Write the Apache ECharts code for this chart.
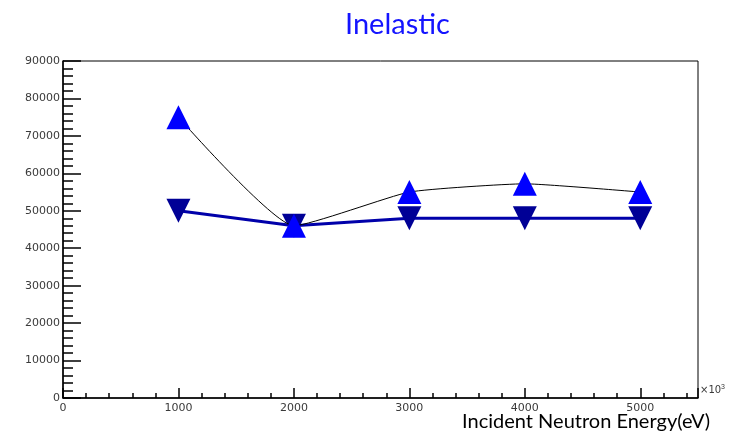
<!DOCTYPE html>
<html>
<head>
<meta charset="UTF-8">
<title>Inelastic</title>
<script src="https://cdn.jsdelivr.net/npm/echarts@6/dist/echarts.min.js"></script>
<style>
  html, body { margin: 0; padding: 0; background: #fff; }
  #chart { width: 730px; height: 432px; }
</style>
</head>
<body>
<div id="chart"></div>
<script>
  // incident energies (x10^3 eV) and cross-section values
  const energies = [1000, 2000, 3000, 4000, 5000];
  const upValues = [75000, 46000, 55000, 57200, 55000];
  const downValues = [50000, 46000, 48000, 48000, 48000];

  const chart = echarts.init(document.getElementById('chart'));

  const toPairs = (xs, ys) => xs.map((x, i) => [x, ys[i]]);

  const labelStyle = {
    fontFamily: 'DejaVu Sans, sans-serif',
    fontSize: 11,
    color: '#3a3a3a',
    formatter: (v) => String(v)
  };

  const option = {
    backgroundColor: '#fff',
    animation: false,
    title: {
      text: 'Inelastic',
      left: 340,
      top: 5,
      textStyle: {
        fontFamily: 'Lato, Noto Sans, sans-serif',
        fontWeight: 'normal',
        fontSize: 29,
        color: '#1414ff'
      }
    },
    grid: {
      left: 63,
      right: 32,
      top: 61,
      bottom: 34,
      containLabel: false,
      outerBoundsMode: 'none',
      show: true,
      borderColor: '#000',
      borderWidth: 1
    },
    xAxis: {
      type: 'value',
      min: 0,
      max: 5500,
      interval: 1000,
      axisLine: { lineStyle: { color: '#000', width: 1.5 } },
      axisTick: { inside: true, length: 10, lineStyle: { color: '#000', width: 1.5 } },
      minorTick: { show: true, splitNumber: 5, length: 5, lineStyle: { color: '#000', width: 1.5 } },
      splitLine: { show: false },
      axisLabel: Object.assign({ margin: 5, showMaxLabel: false }, labelStyle)
    },
    yAxis: {
      type: 'value',
      min: 0,
      max: 90000,
      interval: 10000,
      axisLine: { show: true, lineStyle: { color: '#000', width: 1.5 } },
      axisTick: { show: true, inside: true, length: 18, lineStyle: { color: '#000', width: 1.5 } },
      minorTick: { show: true, splitNumber: 5, length: 10, lineStyle: { color: '#000', width: 1.5 } },
      splitLine: { show: false },
      axisLabel: Object.assign({ margin: 3 }, labelStyle)
    },
    graphic: [
      {
        type: 'text',
        right: 20,
        top: 412,
        style: {
          text: 'Incident Neutron Energy(eV)',
          fontFamily: 'Lato, Noto Sans, sans-serif',
          fontSize: 20,
          fill: '#000'
        }
      },
      {
        type: 'text',
        left: 700,
        top: 384,
        style: {
          text: '×10{s|3}',
          rich: { s: { fontSize: 7, verticalAlign: 'top', padding: [0, 0, 6, 0] } },
          fontFamily: 'DejaVu Sans, sans-serif',
          fontSize: 10,
          fill: '#3a3a3a'
        }
      }
    ],
    series: [
      {
        type: 'line',
        data: toPairs(energies, downValues),
        symbol: 'triangle',
        symbolRotate: 180,
        symbolSize: 24,
        itemStyle: { color: '#000096' },
        lineStyle: { color: '#0000aa', width: 3 },
        z: 2
      },
      {
        type: 'line',
        data: toPairs(energies, upValues),
        smooth: 0.15,
        symbol: 'triangle',
        symbolSize: 24,
        itemStyle: { color: '#0000ff' },
        lineStyle: { color: '#000', width: 1 },
        z: 3
      }
    ]
  };

  chart.setOption(option);
</script>
</body>
</html>
